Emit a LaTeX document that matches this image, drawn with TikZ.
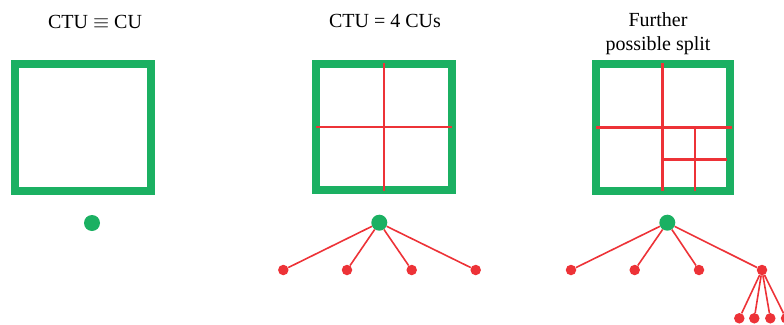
\documentclass[tikz,border=0pt]{standalone}
\usepackage{fontspec}
\setmainfont{Liberation Serif}
\usetikzlibrary{positioning}
\definecolor{CtuGreen}{RGB}{27,176,98}
\definecolor{CuRed}{RGB}{237,50,55}

\tikzset{
  ctubox/.style={draw=CtuGreen,line width=8pt},
  cusplit/.style={draw=CuRed,line width=2.6pt},
  rootdot/.style={circle,fill=CtuGreen,inner sep=0pt,minimum size=16pt},
  leafdot/.style={circle,fill=CuRed,inner sep=0pt,minimum size=10.5pt},
  treeedge/.style={draw=CuRed,line width=1.6pt},
  paneltitle/.style={font=\fontsize{20}{24}\selectfont,anchor=base,align=center}
}

\begin{document}
\begin{tikzpicture}[x=1pt,y=-1pt]
  \useasboundingbox (0,0) rectangle (784,324);
  % titles
  \node[paneltitle] (t1) at (95,28.7) {CTU $\equiv$ CU};
  \node[paneltitle] (t2) at (385,27.5) {CTU = 4 CUs};
  \node[paneltitle] (t3) at (658,50.5) {Further\\possible split};
  % CTU blocks
  \draw[ctubox] (15,64) rectangle (151,190.5);
  \draw[ctubox] (316,63.5) rectangle (451.5,189.5);
  \draw[cusplit] (384,63) -- (384,191);
  \draw[cusplit] (316,127) -- (452,127);
  \draw[ctubox] (596,64) rectangle (730,190.5);
  \draw[cusplit] (662.7,63) -- (662.7,191);
  \draw[cusplit] (596,127.3) -- (731.5,127.3);
  \draw[cusplit] (695,127.3) -- (695,191);
  \draw[cusplit] (662.7,159.3) -- (726.5,159.3);
  % quadtrees
  \node[rootdot] (r1) at (92,223) {};
  \node[rootdot] (r2) at (379.3,222.7) {};
  \node[rootdot] (r3) at (667.3,222.7) {};
  \foreach \i/\x in {1/283.3,2/347,3/411.7,4/475.7}{
    \node[leafdot] (a\i) at (\x,270) {};
    \draw[treeedge] (r2) -- (a\i);
  }
  \foreach \i/\x in {1/571,2/634.7,3/699,4/762}{
    \node[leafdot] (b\i) at (\x,270) {};
    \draw[treeedge] (r3) -- (b\i);
  }
  \foreach \i/\x in {1/739.3,2/754.3,3/770.3,4/786}{
    \node[leafdot] (c\i) at (\x,318.3) {};
    \draw[treeedge] (b4) -- (c\i);
  }
\end{tikzpicture}
\end{document}
